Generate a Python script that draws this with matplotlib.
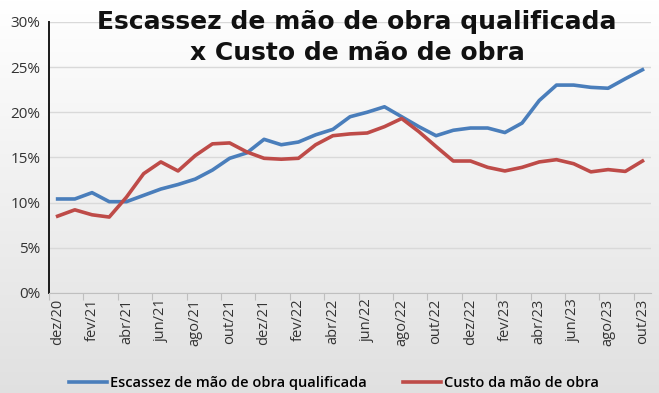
import numpy as np
import matplotlib.pyplot as plt

months = ['dez/20', 'jan/21', 'fev/21', 'mar/21', 'abr/21', 'mai/21', 'jun/21', 'jul/21',
          'ago/21', 'set/21', 'out/21', 'nov/21', 'dez/21', 'jan/22', 'fev/22', 'mar/22',
          'abr/22', 'mai/22', 'jun/22', 'jul/22', 'ago/22', 'set/22', 'out/22', 'nov/22',
          'dez/22', 'jan/23', 'fev/23', 'mar/23', 'abr/23', 'mai/23', 'jun/23', 'jul/23',
          'ago/23', 'set/23', 'out/23']

escassez = [10.4, 10.4, 11.1, 10.1, 10.1, 10.8, 11.5, 12.0, 12.6, 13.6, 14.9, 15.5,
            17.0, 16.4, 16.7, 17.5, 18.1, 19.5, 20.0, 20.6, 19.5, 18.4, 17.4, 18.0,
            18.25, 18.25, 17.75, 18.8, 21.3, 23.0, 23.0, 22.75, 22.65, 23.7, 24.7]
custo = [8.5, 9.2, 8.65, 8.4, 10.6, 13.2, 14.5, 13.5, 15.2, 16.5, 16.6, 15.6,
         14.9, 14.8, 14.9, 16.4, 17.4, 17.6, 17.7, 18.4, 19.3, 17.85, 16.2, 14.6,
         14.6, 13.9, 13.5, 13.9, 14.5, 14.75, 14.3, 13.4, 13.65, 13.45, 14.6]

yticks = [0, 5, 10, 15, 20, 25, 30]

fig = plt.figure(figsize=(6.59, 3.93), dpi=100)

# soft background gradient (screenshot look)
bg = fig.add_axes([0, 0, 1, 1], zorder=-10)
grad = np.linspace(1.0, 0.88, 256).reshape(-1, 1)
bg.imshow(np.dstack([grad, grad, grad]), aspect='auto', extent=[0, 1, 0, 1])
bg.axis('off')

ax = fig.add_axes([0.0744, 0.2545, 0.9136, 0.69])
ax.patch.set_alpha(0)

x = np.arange(len(months))
blue = '#4a7ebb'
red = '#be4b48'
ax.plot(x, escassez, color=blue, lw=2.6, solid_joinstyle='round',
        label='Escassez de mão de obra qualificada')
ax.plot(x, custo, color=red, lw=2.6, solid_joinstyle='round',
        label='Custo da mão de obra')

ax.set_ylim(0, 30)
ax.set_xlim(-0.5, len(months) - 0.5)
ax.set_yticks(yticks)
ax.set_yticklabels([f'{v}%' for v in yticks], fontsize=11, color='#333333',
                   family='Open Sans')
ax.yaxis.grid(True, color='#d9d9d9', lw=1)
ax.tick_params(axis='y', length=0, pad=6)

ax.set_xticks(np.arange(-0.5, len(months) - 1, 2))
ax.set_xticklabels([])
ax.set_xticks(x[::2], minor=True)
ax.set_xticklabels(months[::2], minor=True, rotation=90, fontsize=10.5,
                   color='#333333', family='Open Sans')
ax.tick_params(axis='x', which='major', length=5, color='#bfbfbf', direction='out')
ax.tick_params(axis='x', which='minor', length=0, pad=4)

for s in ['top', 'right']:
    ax.spines[s].set_visible(False)
ax.spines['left'].set_color('#1a1a1a')
ax.spines['left'].set_linewidth(1.4)
ax.spines['bottom'].set_color('#bfbfbf')

fig.text(0.542, 0.905, 'Escassez de mão de obra qualificada\nx Custo de mão de obra',
         ha='center', va='center', fontsize=18, fontweight='bold', color='#111111',
         family='DejaVu Sans', linespacing=1.4)

fig.legend(loc='lower center', bbox_to_anchor=(0.507, -0.025), ncol=2, frameon=False,
           prop={'family': 'Open Sans', 'size': 10.5, 'weight': 'semibold'},
           handlelength=2.6, columnspacing=2.5, handletextpad=0.2)

fig.savefig('out.png', dpi=100)
